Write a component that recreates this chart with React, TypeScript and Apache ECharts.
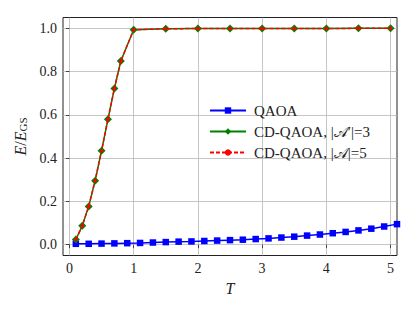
import React, { useEffect, useRef } from "react";
import * as echarts from "echarts";

const qaoaT = [0.1, 0.3, 0.5, 0.7, 0.9, 1.1, 1.3, 1.5, 1.7, 1.9, 2.1, 2.3, 2.5, 2.7, 2.9, 3.1, 3.3, 3.5, 3.7, 3.9, 4.1, 4.3, 4.5, 4.7, 4.9, 5.1];
const qaoaE = [0.004, 0.004, 0.005, 0.006, 0.007, 0.008, 0.010, 0.012, 0.014, 0.015, 0.017, 0.019, 0.021, 0.023, 0.026, 0.029, 0.033, 0.037, 0.042, 0.047, 0.053, 0.059, 0.066, 0.074, 0.084, 0.095];
const cdT = [0.1, 0.2, 0.3, 0.4, 0.5, 0.6, 0.7, 0.8, 1.0, 1.5, 2.0, 2.5, 3.0, 3.5, 4.0, 4.5, 5.0];
const cd3E = [0.024, 0.087, 0.177, 0.296, 0.434, 0.58, 0.722, 0.849, 0.993, 0.998, 0.999, 0.999, 0.999, 0.999, 0.999, 1.0, 1.0];
const cd5E = [0.024, 0.087, 0.177, 0.296, 0.434, 0.58, 0.722, 0.849, 0.993, 0.998, 0.999, 0.999, 0.999, 0.999, 0.999, 1.0, 1.0];
const xTicks = [0, 1, 2, 3, 4, 5];
const yTicks = [0, 0.2, 0.4, 0.6, 0.8, 1.0];
const seriesNames = ["QAOA", "CD3", "CD5"];
const legendLabels = ["QAOA", "CD-QAOA, |𝒜′|=3", "CD-QAOA, |𝒜|=5"];

const FONT = "'Liberation Serif', 'DejaVu Serif', serif";

export default function App() {
  const ref = useRef<HTMLDivElement>(null);
  useEffect(() => {
    const chart = echarts.init(ref.current!, null, { renderer: "svg" });
    const zip = (xs: number[], ys: number[]) => xs.map((x, i) => [x, ys[i]]);
    chart.setOption({
      animation: false,
      textStyle: { fontFamily: FONT },
      grid: {
        left: 63, right: 18, top: 17.5, bottom: 55.5,
        show: true, borderColor: "#222", borderWidth: 1, backgroundColor: "transparent",
      },
      xAxis: {
        type: "value", min: -0.1, max: 5.1,
        name: "{i|T}", nameLocation: "middle", nameGap: 24,
        nameTextStyle: { rich: { i: { fontFamily: FONT, fontStyle: "italic", fontSize: 16, color: "#222" } } },
        axisLine: { show: false },
        axisTick: { show: true, customValues: xTicks, length: 3.5, lineStyle: { color: "#222", width: 0.8 } },
        axisLabel: { customValues: xTicks, fontFamily: FONT, fontSize: 14, color: "#222", margin: 6 },
        splitLine: { show: true, lineStyle: { color: "#b8b8b8", width: 0.8 } },
      },
      yAxis: {
        type: "value", min: -0.05, max: 1.05,
        name: "{i|E}{n|/}{i|E}{s|GS}", nameLocation: "middle", nameGap: 33, nameRotate: 90,
        nameTextStyle: {
          rich: {
            i: { fontFamily: FONT, fontStyle: "italic", fontSize: 16, color: "#222" },
            n: { fontFamily: FONT, fontSize: 16, color: "#222" },
            s: { fontFamily: FONT, fontSize: 11, color: "#222", verticalAlign: "bottom", padding: [6, 0, 0, 0] },
          },
        },
        axisLine: { show: false },
        axisTick: { show: true, customValues: yTicks, length: 3.5, lineStyle: { color: "#222", width: 0.8 } },
        axisLabel: { customValues: yTicks, fontFamily: FONT, fontSize: 14, color: "#222", margin: 6, formatter: (v: number) => v.toFixed(1) },
        splitLine: { show: true, lineStyle: { color: "#b8b8b8", width: 0.8 } },
      },
      legend: {
        orient: "vertical", left: 204, top: 98, itemWidth: 36, itemHeight: 8, itemGap: 6,
        data: seriesNames,
        textStyle: { fontFamily: FONT, fontSize: 15, color: "#222", padding: [0, 0, 0, 3] },
        formatter: (n: string) => legendLabels[seriesNames.indexOf(n)],
      },
      series: [
        {
          name: "QAOA", type: "line", data: zip(qaoaT, qaoaE), symbol: "rect", symbolSize: 6.5,
          lineStyle: { color: "#0000ff", width: 1.5 }, itemStyle: { color: "#0000ff" }, z: 2,
        },
        {
          name: "CD3", type: "line", data: zip(cdT, cd3E), symbol: "diamond", symbolSize: 8,
          lineStyle: { color: "#008000", width: 1.5 }, itemStyle: { color: "#008000" }, z: 3,
        },
        {
          name: "CD5", type: "line", data: zip(cdT, cd5E), symbol: "circle", symbolSize: 3.5,
          lineStyle: { color: "#ff0000", width: 1.5, type: [4, 2] }, itemStyle: { color: "#ff0000" }, z: 4,
        },
      ],
    });
    return () => chart.dispose();
  }, []);
  return <div ref={ref} style={{ position: "fixed", left: 0, top: 0, width: 415, height: 311, background: "#fff" }} />;
}
